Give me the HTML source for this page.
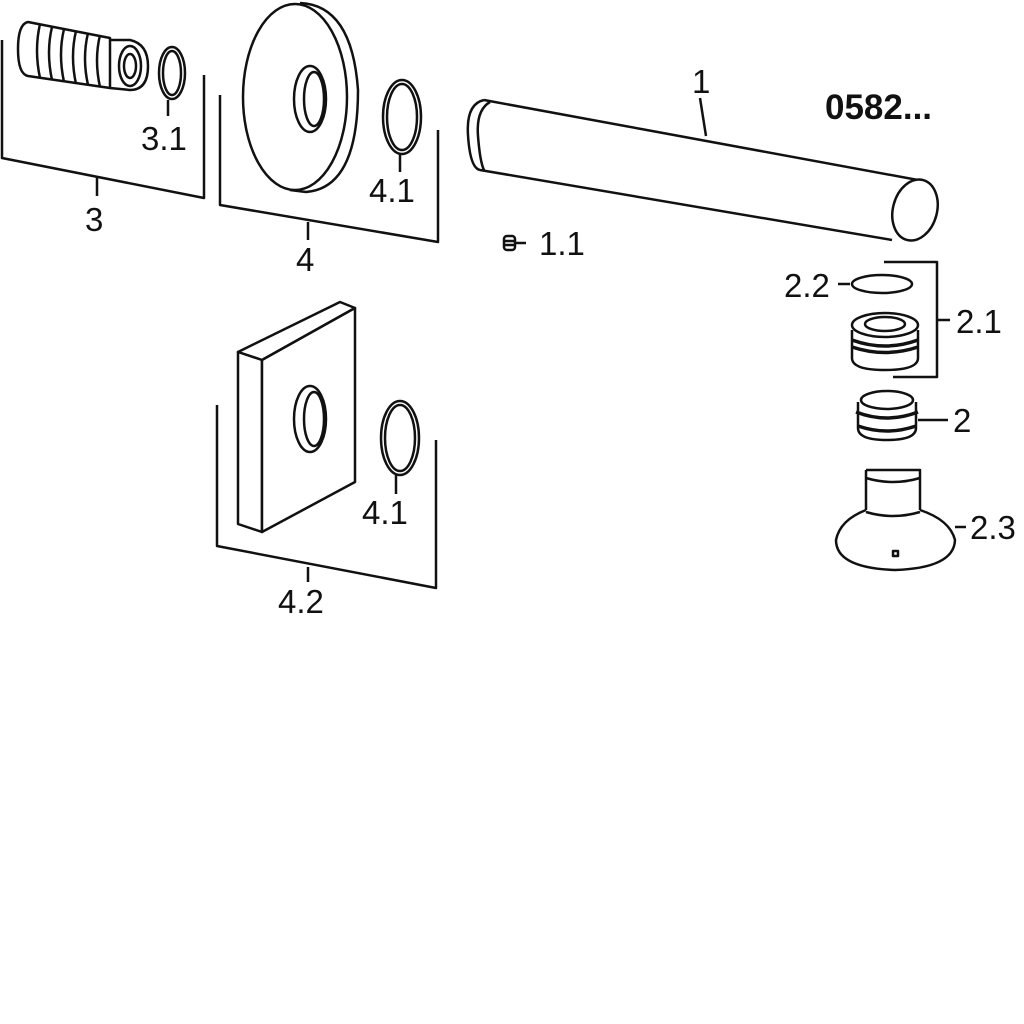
<!DOCTYPE html>
<html><head><meta charset="utf-8"><style>
html,body{margin:0;padding:0;background:#fff}
svg{display:block}
text{font-family:"Liberation Sans",sans-serif;font-size:33px;fill:#111}
</style></head><body>
<svg width="1024" height="1024" viewBox="0 0 1024 1024" xmlns="http://www.w3.org/2000/svg">
<g fill="none" stroke="#111" stroke-width="2.5" stroke-linejoin="round">
<path d="M28 22 L110 38 L110 88 L28 76 Q18 74 18 49 Q18 24 28 22 Z" fill="#fff"/>
<path d="M40 24 Q34 50 40 78 M52 27 Q46 52 52 80 M64 29 Q58 54 64 82 M76 31 Q70 56 76 84 M88 33 Q82 58 88 85 M100 35 Q94 60 100 87"/>
<path d="M110 40 L130 40 Q148 44 148 66 Q148 90 130 90 L110 88"/>
<ellipse cx="130" cy="66" rx="11" ry="20"/>
<ellipse cx="130" cy="66" rx="6" ry="12"/>
<ellipse cx="172" cy="73" rx="13" ry="26"/><ellipse cx="172" cy="73" rx="9" ry="22"/>
<path d="M168 100 V116"/>
<path d="M2 40 V158 L204 198 V75 M97 178 V196"/>
<path d="M300 3 Q352 5 358 90 Q358 188 306 192 L290 190" fill="#fff"/>
<ellipse cx="295" cy="97" rx="52" ry="93" fill="#fff"/>
<ellipse cx="310" cy="99" rx="16" ry="33"/><ellipse cx="314" cy="99" rx="10" ry="27"/>
<ellipse cx="402" cy="117" rx="19" ry="37"/><ellipse cx="402" cy="117" rx="15" ry="33"/>
<path d="M400 154 V172"/>
<path d="M220 95 V205 L438 242 V130 M308 222 V240"/>
<path d="M484 100 L918 180 M480 170 L892 240"/>
<path d="M484 100 Q466 104 468 135 Q470 168 480 170"/>
<path d="M490 102 Q476 110 478 136 Q480 162 484 170"/>
<ellipse cx="915" cy="210" rx="22" ry="31" transform="rotate(15 915 210)" fill="#fff"/>
<path d="M700 98 L706 136"/>
<rect x="504" y="236" width="11" height="14" rx="3"/><path d="M505 241 H514 M505 245 H514 M515 243 H526"/>
<ellipse cx="882" cy="284" rx="30" ry="9"/><path d="M838 284 H850"/>
<path d="M884 262 H937 V377 H893 M937 320 H950"/>
<path d="M852 330 V358 Q852 370 885 370 Q918 370 918 358 V330" fill="#fff"/>
<ellipse cx="885" cy="325" rx="33" ry="12" fill="#fff"/>
<ellipse cx="885" cy="324" rx="20" ry="7"/>
<path d="M852 340 Q885 352 918 340 M852 347 Q885 358 918 347" stroke-width="3.5"/>
<path d="M858 402 V428 Q858 440 887 440 Q916 440 916 428 V402" fill="#fff"/>
<ellipse cx="887" cy="400" rx="26" ry="9" fill="#fff"/>
<path d="M856 412 Q887 424 918 412 M858 426 Q887 436 916 426" stroke-width="3.5"/>
<path d="M918 420 H948"/>
<path d="M866 470 H920 V510 M866 470 V510"/>
<path d="M866 478 Q893 486 920 478" />
<path d="M866 510 Q840 520 836 540 Q836 568 895 570 Q954 568 955 540 Q950 520 920 510"/>
<path d="M866 512 Q893 520 920 512"/>
<rect x="893" y="551" width="5" height="5"/>
<path d="M955 527 H966"/>
<path d="M238 352 L340 302 L355 308 L262 360 Z" fill="#fff"/>
<path d="M238 352 L262 360 L262 532 L238 524 Z" fill="#fff"/>
<path d="M262 360 L355 308 L355 482 L262 532 Z" fill="#fff"/>
<ellipse cx="310" cy="419" rx="16" ry="33"/><ellipse cx="314" cy="419" rx="10" ry="27"/>
<ellipse cx="400" cy="438" rx="19" ry="37"/><ellipse cx="400" cy="438" rx="15" ry="33"/>
<path d="M396 475 V494"/>
<path d="M217 405 V546 L436 588 V440 M308 567 V582"/>
</g>
<text x="141" y="150">3.1</text>
<text x="85" y="231">3</text>
<text x="369" y="202">4.1</text>
<text x="296" y="271">4</text>
<text x="692" y="93">1</text>
<text x="825" y="119" style="font-weight:bold;font-size:35px">0582...</text>
<text x="539" y="255">1.1</text>
<text x="784" y="297">2.2</text>
<text x="956" y="333">2.1</text>
<text x="953" y="432">2</text>
<text x="970" y="539">2.3</text>
<text x="362" y="524">4.1</text>
<text x="278" y="613">4.2</text>
</svg>
</body></html>
